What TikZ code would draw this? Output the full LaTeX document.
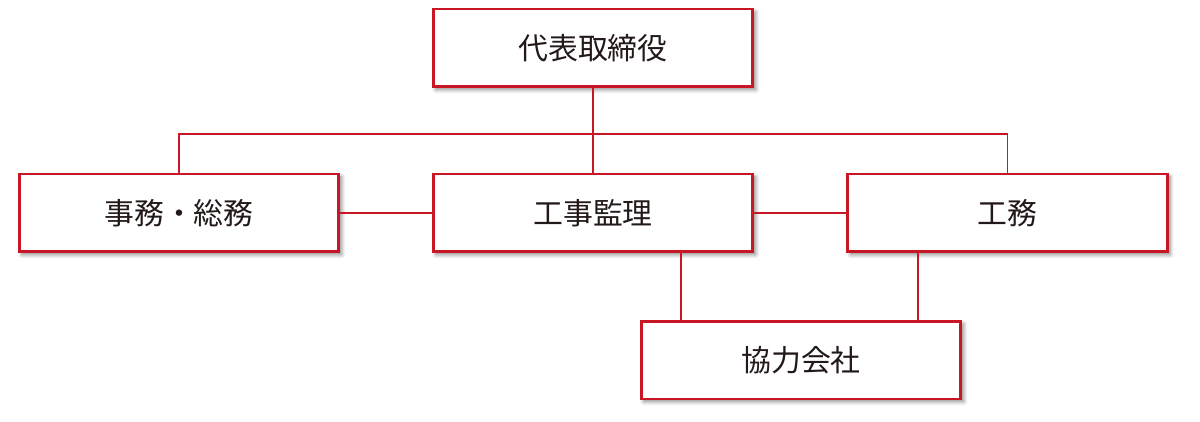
\documentclass[tikz,border=0pt]{standalone}
\usepackage{fontspec}
\setmainfont{Noto Sans CJK JP}
\usetikzlibrary{shadows.blur}
\definecolor{orgred}{RGB}{200,22,38}
\definecolor{orgtext}{RGB}{35,25,25}
\tikzset{unit/.style = {shape=rectangle,draw=orgred,line width=1.7pt,fill=white,
  minimum width=6.4cm,minimum height=1.56cm,text=orgtext,font=\fontsize{17}{20}\selectfont,
  blur shadow={shadow xshift=1.6pt,shadow yshift=-1.6pt,shadow blur steps=6,shadow opacity=45}}}
\tikzset{link/.style = {draw=orgred,line width=1.1pt}}

\begin{document}
\begin{tikzpicture}[x=0.02cm,y=-0.02cm]
        \useasboundingbox (0,0) rectangle (1200,422);
        \coordinate (bus) at (593,134);

        \node[unit] (ceo) at (593,48) {代表取締役};
        \node[unit] (admin) at (179,213) {事務・総務};
        \node[unit] (super) at (593,213) {工事監理};
        \node[unit] (works) at (1007.5,213) {工務};
        \node[unit] (partner) at (801,360) {協力会社};

        \path (super.south) ++(88,0) coordinate (s1);
        \path (works.south) ++(-89.5,0) coordinate (w1);

        \draw[link] (ceo) -- (super);
        \draw[link] (admin.north) |- (bus) -| (works.north);
        \draw[link] (admin.east) -- (super.west);
        \draw[link] (super.east) -- (works.west);
        \draw[link] (s1) -- (s1 |- partner.north);
        \draw[link] (w1) -- (w1 |- partner.north);
      \end{tikzpicture}
\end{document}
